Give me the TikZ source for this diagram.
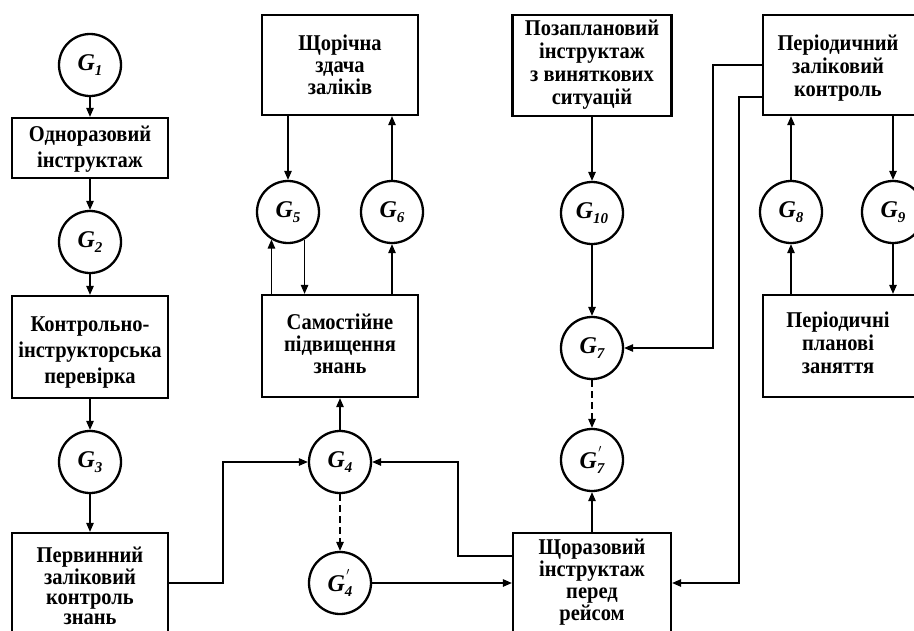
\documentclass[tikz,border=0pt]{standalone}
\usepackage{fontspec}
\setmainfont{Liberation Serif}
\usetikzlibrary{arrows.meta}
\tikzset{
 box/.style={draw, line width=2.3pt, minimum width=156pt, align=center, inner sep=0pt},
 btext/.style={align=center, inner sep=0pt, font=\fontsize{20.5}{#1}\selectfont\bfseries},
 btext/.default=20.5,
 gnode/.style={draw, circle, line width=2.3pt, minimum size=62pt, inner sep=0pt, font=\fontsize{24}{24}\selectfont\bfseries\itshape},
 conn/.style={line width=1.2pt, -{Triangle[length=9pt,width=7.5pt]}},
 dconn/.style={conn, dash pattern=on 7pt off 4pt}
}
\newcommand{\bt}[1]{\scalebox{1}[1.1]{\begin{tabular}{@{}c@{}}#1\end{tabular}}}
\newcommand{\gsym}[1]{G\raisebox{-0.4ex}{\fontsize{15}{15}\selectfont #1}}
\newcommand{\gpsym}[1]{G\rlap{\raisebox{1.0ex}{\fontsize{15}{15}\selectfont\kern1.5pt$'$}}\raisebox{-0.4ex}{\fontsize{15}{15}\selectfont #1}}
\begin{document}
\begin{tikzpicture}[x=1pt,y=-1pt]
\useasboundingbox (0,0) rectangle (914,630);
\clip (0,0) rectangle (914,630);
% left column
\node[gnode] (G1) at (90,65) {\gsym{1}};
\node[box, minimum height=60pt] (b1) at (90,148) {};
\node[btext=23.6] (b1t) at (90,149) {\bt{Одноразовий\\інструктаж}};
\node[gnode] (G2) at (90,242) {\gsym{2}};
\node[box, minimum height=102pt] (b2) at (90,347) {};
\node[btext=23.6] (b2t) at (90,352) {\bt{Контрольно-\\інструкторська\\перевірка}};
\node[gnode] (G3) at (90,462) {\gsym{3}};
\node[box, minimum height=114pt] (b3) at (90,590) {};
\node[btext=18.5] (b3t) at (90,589) {\bt{Первинний\\заліковий\\контроль\\знань}};
% second column
\node[box, minimum height=100pt] (b4) at (340,65) {};
\node[btext=20] (b4t) at (340,68) {\bt{Щорічна\\здача\\заліків}};
\node[gnode] (G5) at (288,212) {\gsym{5}};
\node[gnode] (G6) at (392,212) {\gsym{6}};
\node[box, minimum height=102pt] (b5) at (340,346) {};
\node[btext=19.5] (b5t) at (340,347) {\bt{Самостійне\\підвищення\\знань}};
\node[gnode] (G4) at (340,462) {\gsym{4}};
\node[gnode] (G4p) at (340,583) {\gpsym{4}};
% third column
\node[box, minimum width=159pt, minimum height=101pt] (b6) at (592,65.5) {};
\node[btext=20.9] (b6t) at (592,65) {\bt{Позаплановий\\інструктаж\\з виняткових\\ситуацій}};
\node[gnode] (G10) at (592,213) {\gsym{10}};
\node[gnode] (G7) at (592,348) {\gsym{7}};
\node[gnode] (G7p) at (592,460) {\gpsym{7}};
\node[box, minimum width=158pt, minimum height=114pt] (b7) at (592,590) {};
\node[btext=19.6] (b7t) at (592,583) {\bt{Щоразовий\\інструктаж\\перед\\рейсом}};
% right column
\node[box, minimum height=100pt] (b8) at (841,65) {};
\node[btext=20.5] (b8t) at (838,69) {\bt{Періодичний\\заліковий\\контроль}};
\node[gnode] (G8) at (791,212) {\gsym{8}};
\node[gnode] (G9) at (893,212) {\gsym{9}};
\node[box, minimum height=102pt] (b9) at (841,346) {};
\node[btext=20.5] (b9t) at (838,346) {\bt{Періодичні\\планові\\заняття}};
% connectors
\draw[conn] (G1) -- (b1);
\draw[conn] (b1) -- (G2);
\draw[conn] (G2) -- (b2);
\draw[conn] (b2) -- (G3);
\draw[conn] (G3) -- (b3);
\coordinate (c1) at (223,583);
\draw[conn] (b3.east |- G4p) -- (c1) |- (G4);
\draw[conn] (G4) -- (b5);
\draw[dconn] (G4) -- (G4p);
\draw[conn] (G4p) -- (G4p -| b7.west);
\coordinate (c2) at (458,556);
\draw[conn] (b7.west |- c2) -- (c2) |- (G4);
\draw[conn] (b4.south -| G5) -- (G5);
\draw[conn] (G6) -- (G6 |- b4.south);
\draw[conn] (b5.north -| G5.239) -- (G5.239);
\draw[conn] (G5.301) -- (G5.301 |- b5.north);
\draw[conn] (b5.north -| G6) -- (G6);
\draw[conn] (b6) -- (G10);
\draw[conn] (G10) -- (G7);
\draw[dconn] (G7) -- (G7p);
\draw[conn] (b7) -- (G7p);
\coordinate (c3) at (713,65);
\draw[conn] (b8.west) -- (c3) |- (G7);
\coordinate (c4) at (739,97);
\draw[conn] (b8.west |- c4) -- (c4) |- (b7.east |- G4p);
\draw[conn] (G8) -- (G8 |- b8.south);
\draw[conn] (b8.south -| G9) -- (G9);
\draw[conn] (b9.north -| G8) -- (G8);
\draw[conn] (G9) -- (G9 |- b9.north);
\end{tikzpicture}
\end{document}
